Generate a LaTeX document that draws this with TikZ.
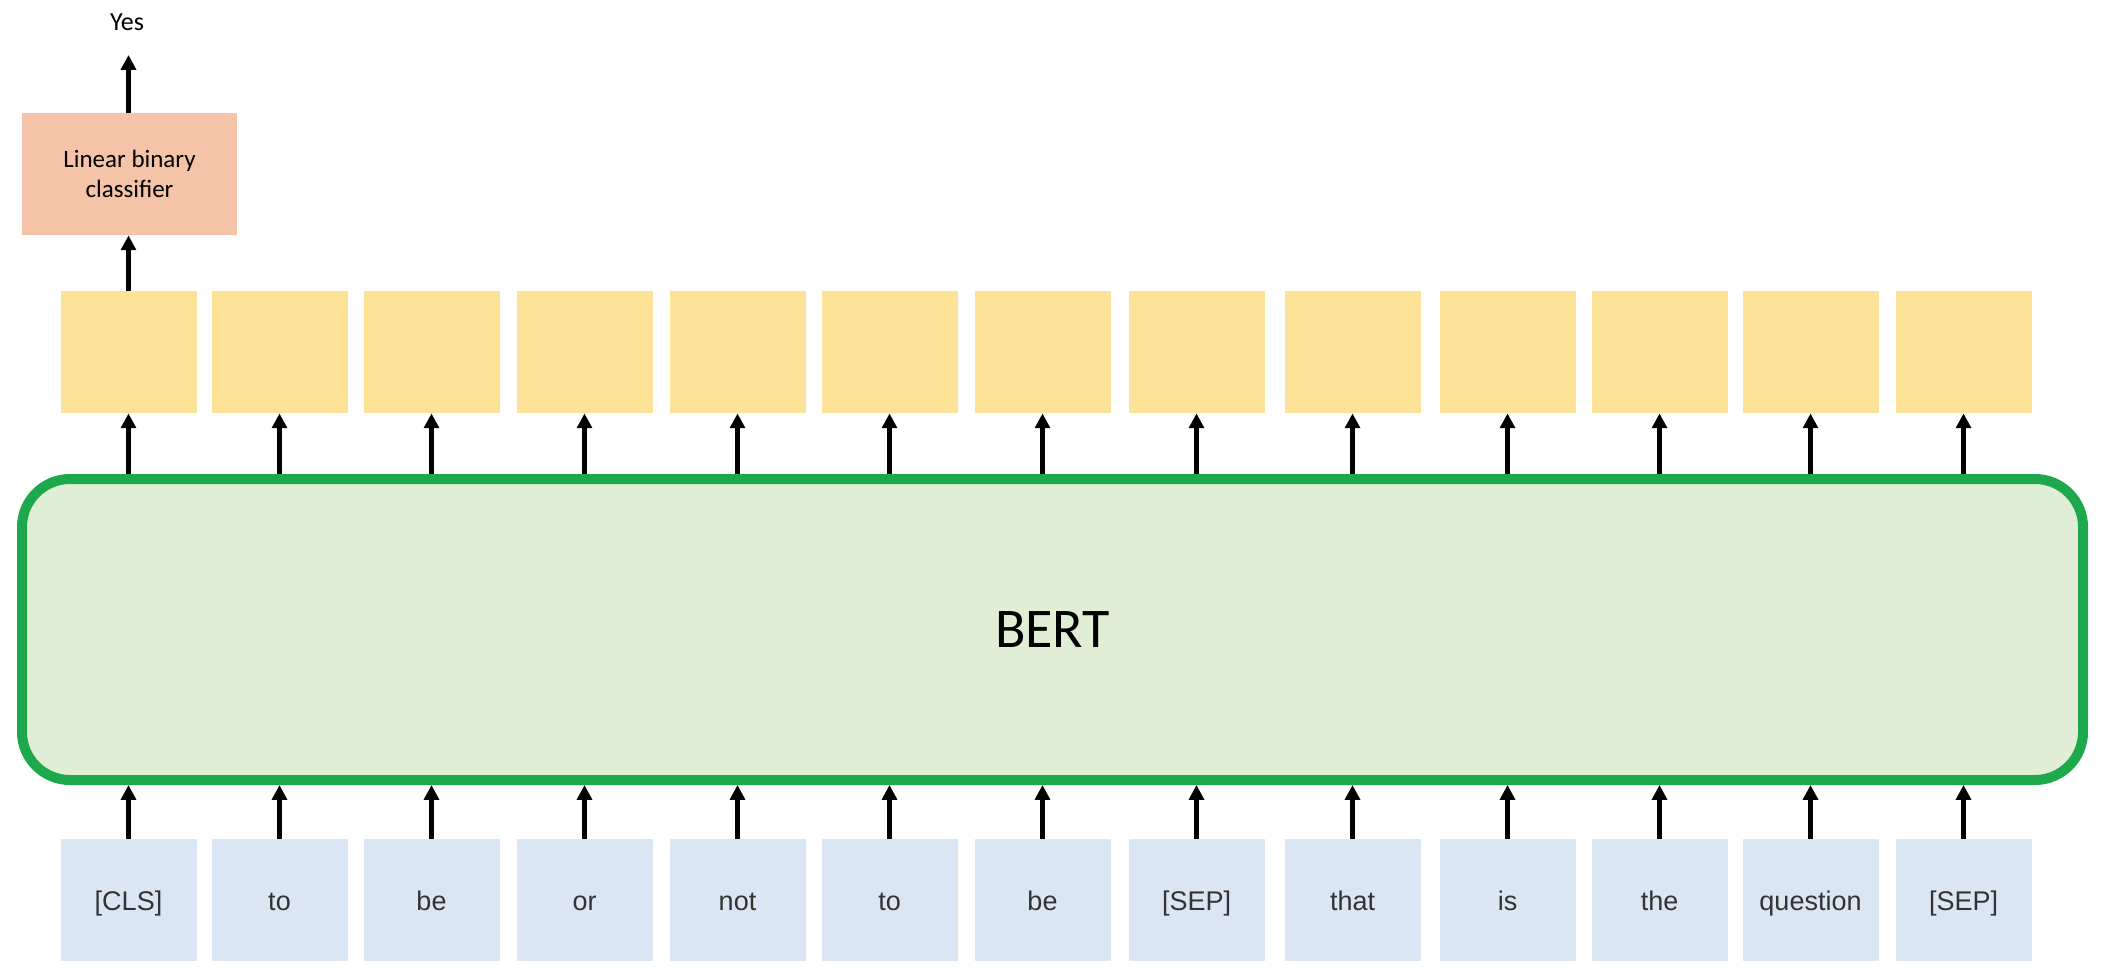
\documentclass[tikz,border=0pt]{standalone}
\usepackage{fontspec}
\setmainfont{Carlito}
\newfontfamily\arialfont{Liberation Sans}
\usetikzlibrary{arrows.meta}
\definecolor{hidfill}{HTML}{FCE398}
\definecolor{clsfill}{HTML}{F5C4A8}
\definecolor{tokfill}{HTML}{DAE6F3}
\definecolor{bertfill}{HTML}{DFEED5}
\definecolor{bertdraw}{HTML}{1EA84C}
\definecolor{toktext}{HTML}{333333}
\begin{document}
\begin{tikzpicture}[x=0.5pt,y=-0.5pt,
  hidbox/.style={rectangle,fill=hidfill,minimum width=68pt,minimum height=61pt,inner sep=0pt},
  tokbox/.style={rectangle,fill=tokfill,minimum width=68pt,minimum height=61pt,inner sep=0pt,
    text height=11.2pt,text depth=1.1pt,
    font=\arialfont\fontsize{13.5pt}{16pt}\selectfont,text=toktext},
  arr/.style={line width=2.3pt,-{Triangle[width=7.4pt,length=7.4pt]}}
]
\useasboundingbox (0,0) rectangle (2103,968);
% BERT block
\node[rectangle,draw=bertdraw,line width=5pt,fill=bertfill,rounded corners=24pt,
  minimum width=1030.5pt,minimum height=150.5pt,inner sep=0pt,
  font=\fontsize{28pt}{32pt}\selectfont] (bert) at (1052.5,629.5) {BERT};
% classifier
\node[rectangle,fill=clsfill,minimum width=107.5pt,minimum height=61pt,inner sep=0pt,
  align=center,font=\fontsize{12.5pt}{15pt}\selectfont] (cls) at (129.5,174) {Linear binary\\classifier};
\node[font=\fontsize{13pt}{15pt}\selectfont,inner sep=0pt] (yes) at (127,22) {Yes};
\coordinate (yestip) at (128.5,55);
% columns
\foreach \i/\xx/\w in {1/128.5/[CLS],2/279.5/to,3/431.5/be,4/584.5/or,5/737.5/not,6/889.5/to,
  7/1042.5/be,8/1196.5/[SEP],9/1352.5/that,10/1507.5/is,11/1659.5/the,12/1810.5/question,13/1963.5/[SEP]}{
  \node[hidbox] (h\i) at (\xx,352) {};
  \node[tokbox] (t\i) at (\xx,900) {\w};
  \draw[arr] (t\i.north) -- (t\i.north |- bert.south);
  \draw[arr] (h\i.south |- bert.north) -- (h\i.south);
}
\draw[arr] (h1.north) -- (h1.north |- cls.south);
\draw[arr] (cls.north -| yestip) -- (yestip);
\end{tikzpicture}
\end{document}
